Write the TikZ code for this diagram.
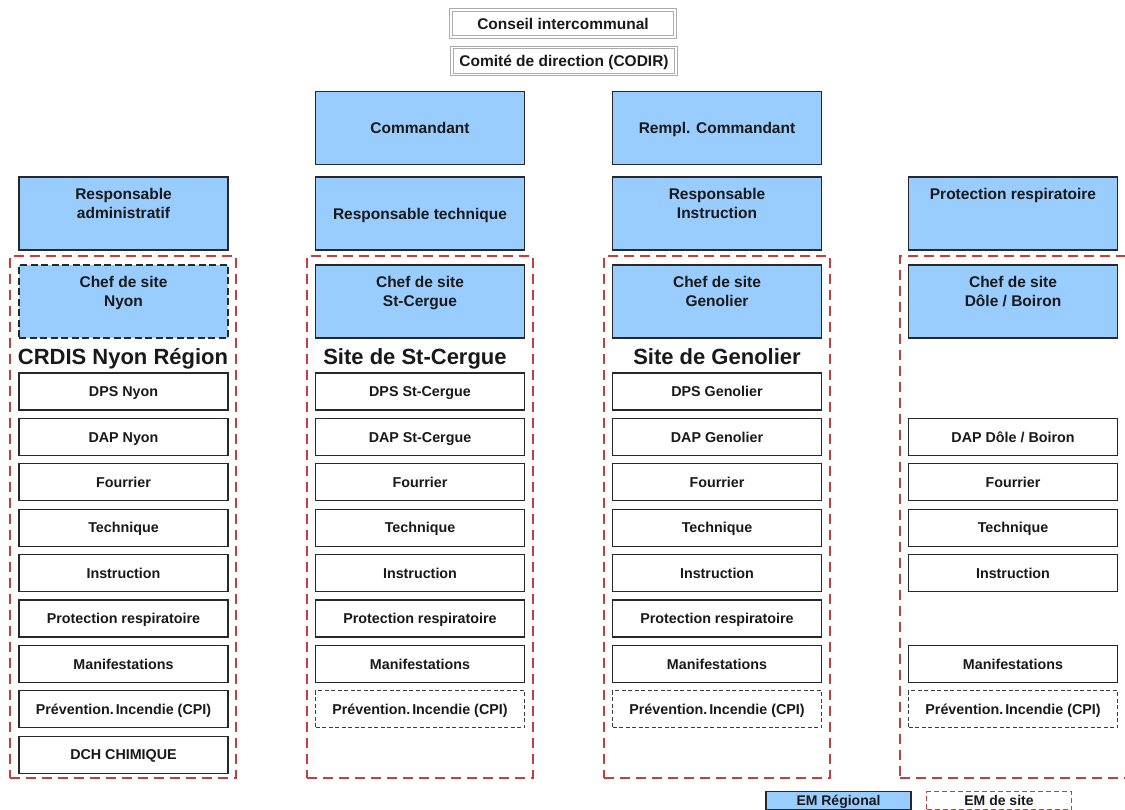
\documentclass[tikz,border=0pt]{standalone}
\usepackage{fontspec}
\setmainfont{Liberation Sans}
\definecolor{boxblue}{RGB}{153,204,255}
\definecolor{siteRed}{RGB}{200,60,60}
\definecolor{edgeC}{RGB}{40,40,40}
\definecolor{txtC}{RGB}{25,25,25}
\tikzset{
  bluebox/.style={draw=edgeC, fill=boxblue, line width=1.4pt, minimum width=209pt, minimum height=73pt, inner sep=0pt, text=txtC, font=\fontsize{15.5}{19}\selectfont\bfseries, align=center, text height=11.1pt, text depth=0pt},
  itembox/.style={draw=edgeC, line width=1.2pt, minimum width=209pt, minimum height=37pt, inner sep=0pt, text=txtC, font=\fontsize{14.3}{17}\selectfont\bfseries, text height=10.2pt, text depth=0pt},
  dashitem/.style={itembox, draw=edgeC!90, line width=1.3pt, dash pattern=on 4pt off 2.5pt},
  siteframe/.style={draw=siteRed, line width=1.8pt, dash pattern=on 10pt off 6pt, inner sep=0pt},
  headtxt/.style={font=\fontsize{15.5}{19}\selectfont\bfseries, align=center, inner sep=0pt, anchor=north, text=txtC},
  titletxt/.style={font=\fontsize{22}{26}\selectfont\bfseries, inner sep=0pt, text=txtC, text height=15.8pt, text depth=0pt},
  topbox/.style={draw=gray!65, double=white, double distance=1.3pt, line width=0.9pt, minimum width=224pt, minimum height=27pt, inner sep=0pt, text=txtC, font=\fontsize{15.5}{19}\selectfont\bfseries, text height=11.1pt, text depth=0pt},
  legbox/.style={minimum width=145pt, minimum height=18pt, inner sep=0pt, text=txtC, font=\fontsize{14}{17}\selectfont\bfseries, text height=10pt, text depth=0pt}
}
\begin{document}
\begin{tikzpicture}[x=1pt,y=-1pt]
\clip (0,0) rectangle (1125,810);
\fill[white] (0,0) rectangle (1125,810);
% top
\node[topbox] (ci) at (563,23.5) {Conseil intercommunal};
\node[topbox] (codir) at (564,61) {Comité de direction (CODIR)};
% commandants
\node[bluebox] (cmd) at (420,128) {Commandant};
\node[bluebox] (rcmd) at (717,128) {Rempl. Commandant};
% responsables
\node[bluebox] (radm) at (123.5,213.5) {};
\node[headtxt] (radmT) at ([yshift=-12pt]radm.north) {Responsable\\administratif};
\node[bluebox] (rtech) at (420,213.5) {Responsable technique};
\node[bluebox] (rinst) at (717,213.5) {};
\node[headtxt] (rinstT) at ([yshift=-12pt]rinst.north) {Responsable\\Instruction};
\node[bluebox] (rpr) at (1013,213.5) {};
\node[headtxt] (rprT) at ([yshift=-12pt]rpr.north) {Protection respiratoire};
% site frames
\node[siteframe, minimum width=226pt, minimum height=522pt] (f1) at (123,517) {};
\node[siteframe, minimum width=226pt, minimum height=522pt] (f2) at (420,517) {};
\node[siteframe, minimum width=226pt, minimum height=522pt] (f3) at (717,517) {};
\node[siteframe, minimum width=260pt, minimum height=522pt] (f4) at (1030,517) {};
% chefs de site
\node[bluebox, line width=1.6pt, dash pattern=on 7pt off 3.5pt] (ch1) at (123.5,301.5) {};
\node[headtxt] (ch1T) at ([yshift=-12pt]ch1.north) {Chef de site\\Nyon};
\node[bluebox] (ch2) at (420,301.5) {};
\node[headtxt] (ch2T) at ([yshift=-12pt]ch2.north) {Chef de site\\St-Cergue};
\node[bluebox] (ch3) at (717,301.5) {};
\node[headtxt] (ch3T) at ([yshift=-12pt]ch3.north) {Chef de site\\Genolier};
\node[bluebox] (ch4) at (1013,301.5) {};
\node[headtxt] (ch4T) at ([yshift=-12pt]ch4.north) {Chef de site\\Dôle / Boiron};
% titles
\node[titletxt] (t1) at (123,357) {CRDIS Nyon Région};
\node[titletxt] (t2) at (415,357) {Site de St-Cergue};
\node[titletxt] (t3) at (717,357) {Site de Genolier};
% column 1
\node[itembox] (a1) at (123.5,391.5) {DPS Nyon};
\node[itembox] (a2) at (123.5,436.9) {DAP Nyon};
\node[itembox] (a3) at (123.5,482.3) {Fourrier};
\node[itembox] (a4) at (123.5,527.7) {Technique};
\node[itembox] (a5) at (123.5,573.1) {Instruction};
\node[itembox] (a6) at (123.5,618.5) {Protection respiratoire};
\node[itembox] (a7) at (123.5,663.9) {Manifestations};
\node[itembox] (a8) at (123.5,709.3) {Prévention.\hspace{2pt}Incendie (CPI)};
\node[itembox] (a9) at (123.5,754.7) {DCH CHIMIQUE};
% column 2
\node[itembox] (b1) at (420,391.5) {DPS St-Cergue};
\node[itembox] (b2) at (420,436.9) {DAP St-Cergue};
\node[itembox] (b3) at (420,482.3) {Fourrier};
\node[itembox] (b4) at (420,527.7) {Technique};
\node[itembox] (b5) at (420,573.1) {Instruction};
\node[itembox] (b6) at (420,618.5) {Protection respiratoire};
\node[itembox] (b7) at (420,663.9) {Manifestations};
\node[dashitem] (b8) at (420,709.3) {Prévention.\hspace{2pt}Incendie (CPI)};
% column 3
\node[itembox] (c1) at (717,391.5) {DPS Genolier};
\node[itembox] (c2) at (717,436.9) {DAP Genolier};
\node[itembox] (c3) at (717,482.3) {Fourrier};
\node[itembox] (c4) at (717,527.7) {Technique};
\node[itembox] (c5) at (717,573.1) {Instruction};
\node[itembox] (c6) at (717,618.5) {Protection respiratoire};
\node[itembox] (c7) at (717,663.9) {Manifestations};
\node[dashitem] (c8) at (717,709.3) {Prévention.\hspace{2pt}Incendie (CPI)};
% column 4
\node[itembox] (d2) at (1013,436.9) {DAP Dôle / Boiron};
\node[itembox] (d3) at (1013,482.3) {Fourrier};
\node[itembox] (d4) at (1013,527.7) {Technique};
\node[itembox] (d5) at (1013,573.1) {Instruction};
\node[itembox] (d7) at (1013,663.9) {Manifestations};
\node[dashitem] (d8) at (1013,709.3) {Prévention.\hspace{2pt}Incendie (CPI)};
% legend
\node[legbox, draw=edgeC, fill=boxblue, line width=1.3pt] (lg1) at (838.5,800.5) {EM Régional};
\node[legbox, draw=siteRed, line width=1.5pt, dash pattern=on 5pt off 3pt] (lg2) at (999,800.5) {EM de site};
\end{tikzpicture}
\end{document}
